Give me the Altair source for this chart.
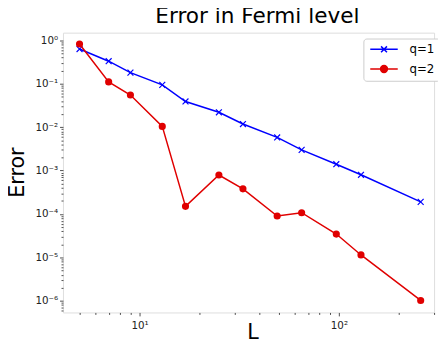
import altair as alt
import pandas as pd

# ---- data ----
L = [5, 7, 9, 13, 17, 25, 33, 49, 65, 97, 129, 257]
err_q1 = [0.63, 0.33, 0.18, 0.094, 0.039, 0.022, 0.0118, 0.0058, 0.0030, 0.0014, 0.00080, 0.00019]
err_q2 = [0.82, 0.11, 0.055, 0.0104, 0.00015, 0.00079, 0.00038, 0.000090, 0.000107, 0.0000345, 0.0000114, 0.00000102]
series = ["q=1", "q=2"]
colors = ["#0000ff", "#e00000"]
x_ticks = [5, 6, 7, 8, 9, 10, 20, 30, 40, 50, 60, 70, 80, 90, 100, 200, 300]
y_ticks = [m * 10.0 ** k for k in range(-7, 1) for m in range(1, 10) if 5.4e-7 <= m * 10.0 ** k <= 1.5]
x_domain = [4.13, 300]
y_domain = [5.4e-7, 1.5]

df = pd.DataFrame({
    "L": L + L,
    "err": err_q1 + err_q2,
    "q": [series[0]] * len(L) + [series[1]] * len(L),
})

FONT = "DejaVu Sans"
is_major = "abs(log(datum.value)/LN10 - round(log(datum.value)/LN10)) < 0.001"
expo = "round(log(datum.value)/LN10)"
label_expr = (f"{is_major} ? '10' + ({expo} < 0 ? '\u207b' : '') + "
              f"['\u2070','\u00b9','\u00b2','\u00b3','\u2074','\u2075','\u2076','\u2077'][abs({expo})] : ''")
tick_size = {"condition": {"test": is_major, "value": 3.5}, "value": 2}

x_enc = alt.X("L:Q", scale=alt.Scale(type="log", domain=x_domain, nice=False),
              axis=alt.Axis(values=x_ticks, labelExpr=label_expr, tickSize=tick_size,
                            tickColor="#222", tickWidth=0.8, domain=False, grid=False,
                            labelOverlap=False, labelFlush=False, labelFont=FONT,
                            labelFontSize=10.5, labelColor="#222", labelPadding=5,
                            title="L", titleFont=FONT, titleFontSize=21, titleFontWeight="normal",
                            titleColor="#000", titleX=193, titleY=27, titleBaseline="alphabetic",
                            titleAlign="center"))
y_enc = alt.Y("err:Q", scale=alt.Scale(type="log", domain=y_domain, nice=False),
              axis=alt.Axis(values=y_ticks, labelExpr=label_expr, tickSize=tick_size,
                            tickColor="#222", tickWidth=0.8, domain=False, grid=False,
                            labelOverlap=False, labelFont=FONT, labelFontSize=10.5,
                            labelColor="#222", labelPadding=2,
                            title="Error", titleFont=FONT, titleFontSize=21, titleFontWeight="normal",
                            titleColor="#000", titleX=-40, titleY=142, titleAngle=270,
                            titleBaseline="alphabetic", titleAlign="center"))

base = alt.Chart(df).encode(x=x_enc, y=y_enc)

X_PATH = "M-1,-1L1,1M-1,1L1,-1"
line1 = base.transform_filter(f"datum.q == '{series[0]}'").mark_line(color=colors[0], strokeWidth=1.5)
pts1 = base.transform_filter(f"datum.q == '{series[0]}'").mark_point(
    shape=X_PATH, color=colors[0], filled=False, size=36, strokeWidth=1.2, opacity=1)
line2 = base.transform_filter(f"datum.q == '{series[1]}'").mark_line(color=colors[1], strokeWidth=1.5)
pts2 = base.transform_filter(f"datum.q == '{series[1]}'").mark_point(
    shape="circle", color=colors[1], filled=True, size=53, opacity=1)

leg = alt.Legend(title=None, orient="none", legendX=306, legendY=6, fillColor="white",
                 strokeColor="#cccccc", cornerRadius=3, padding=5, labelFont=FONT,
                 labelFontSize=12, labelColor="#000", symbolSize=49, symbolStrokeWidth=1.5,
                 symbolOpacity=1, symbolOffset=10, labelOffset=20, rowPadding=6)
LEG_X = "M-4,0H4M-0.86,-0.86L0.86,0.86M-0.86,0.86L0.86,-0.86"
LEG_C = "M-4,0H4M1,0A1,1,0,1,1,-1,0A1,1,0,1,1,1,0Z"
legend_layer = base.mark_point(opacity=0, filled=True).encode(
    fill=alt.Fill("q:N", scale=alt.Scale(domain=series, range=colors), legend=leg),
    stroke=alt.Stroke("q:N", scale=alt.Scale(domain=series, range=colors), legend=leg),
    shape=alt.Shape("q:N", scale=alt.Scale(domain=series, range=[LEG_X, LEG_C]), legend=leg),
)

chart = alt.layer(line1, pts1, line2, pts2, legend_layer).properties(
    width=378, height=285,
    title=alt.TitleParams("Error in Fermi level", font=FONT, fontSize=22, fontWeight="normal",
                          color="#000", anchor="middle", frame="group", offset=5, dx=9),
    autosize=alt.AutoSizeParams(type="none"),
    padding={"left": 56, "top": 22, "right": 4, "bottom": 28},
).configure_view(stroke="#222", strokeWidth=1).configure(background="white")

chart.save("out.html", embed_options={"renderer": "svg", "actions": False})
